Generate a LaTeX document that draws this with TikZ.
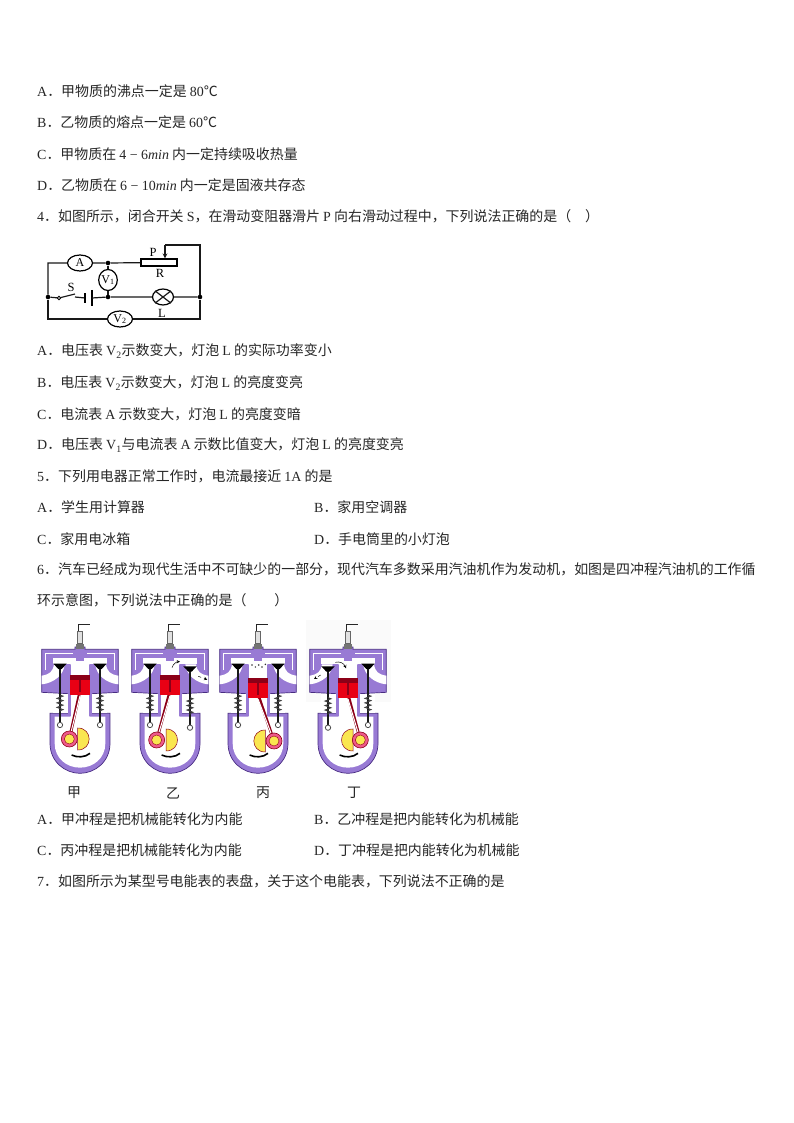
\documentclass[tikz,border=0pt]{standalone}
\usepackage{fontspec}
\setmainfont{Liberation Serif}
\newfontfamily\cjk{Noto Sans CJK SC}
\usetikzlibrary{decorations.pathmorphing,shapes.geometric}
\newcommand{\tn}[1]{{\rmfamily #1}}
\definecolor{enginepurple}{RGB}{152,122,212}
\definecolor{enginedark}{RGB}{72,44,130}
\definecolor{pistonred}{RGB}{232,0,20}
\definecolor{pistondark}{RGB}{140,0,24}
\definecolor{crankyellow}{RGB}{250,230,80}
\definecolor{crankpink}{RGB}{238,90,140}
\tikzset{
  qline/.style={anchor=west,inner sep=0pt,font=\cjk\fontsize{13.95}{16}\selectfont,text=black!85},
  wire/.style={draw=black!90,line width=1.2pt},
  meter/.style={draw=black,line width=1.2pt,fill=white,ellipse,minimum width=25pt,minimum height=16pt,inner sep=0pt,font=\rmfamily\fontsize{12}{13}\selectfont},
  joint/.style={circle,fill=black,inner sep=0pt,minimum size=4.6pt},
  clabel/.style={inner sep=0pt,font=\rmfamily\fontsize{12.5}{13}\selectfont},
  localunits/.style={x=0.3333pt,y=-0.3333pt},
}
% one engine, drawn in units of 1/3 pt round its axis
% #1 axis x, #2 piston top, #3 crank x, #4 crank y, #5 weight flat x, #6 weight side, #7 left valve drop, #8 right valve drop
\newcommand{\engine}[8]{%
  \begin{scope}[shift={(#1,615)},localunits]
    % body
    \draw[enginedark,line width=0.7pt,fill=enginepurple] (-115,103) -- (-15,103) -- (-15,96) -- (15,96) -- (15,103) -- (115,103) -- (115,232) -- (35,236) -- (35,295) -- (90,295) -- (90,385) .. controls (90,440) and (45,475) .. (0,475) .. controls (-45,475) and (-90,440) .. (-90,385) -- (-90,295) -- (-35,295) -- (-35,236) -- (-115,232) -- cycle;
    % crankcase and cylinder
    \fill[white] (-76,305) -- (-28,305) -- (-28,146) -- (28,146) -- (28,305) -- (76,305) -- (76,385) .. controls (76,430) and (40,458) .. (0,458) .. controls (-40,458) and (-76,430) .. (-76,385) -- cycle;
    \fill[white] (-82,128) rectangle (82,148);
    \fill[enginepurple] (-12,128) rectangle (12,138);
    % ports and head passages
    \foreach \s in {-1,1} {
      \fill[white] (\s*115,182) .. controls (\s*90,178) and (\s*82,170) .. (\s*78,148) -- (\s*46,148) .. controls (\s*48,180) and (\s*80,205) .. (\s*115,208) -- cycle;
      \draw[white,line width=1pt] (\s*103,165) -- (\s*103,115) -- (\s*22,115);
      \fill[white] (\s*28,236) rectangle (\s*82,294);
      \fill[enginepurple] (\s*28,150) rectangle (\s*36,304);
    }
    % valves with springs
    \foreach \s/\d in {-1/#7,1/#8} {
      \draw[black!90,line width=1.6pt] (\s*60,150+\d) -- (\s*60,328+\d);
      \fill[black] (\s*40,146+\d) -- (\s*80,146+\d) -- (\s*65,162+\d) -- (\s*55,162+\d) -- cycle;
      \draw[black!75,line width=0.9pt,decorate,decoration={zigzag,segment length=4.5pt,amplitude=3pt}] (\s*60,240+\d) -- (\s*60,292+\d);
      \draw[black!70,fill=white,line width=0.8pt] (\s*60,330+\d) circle[radius=8];
    }
    % piston and connecting rod
    \draw[pistondark,line width=2.8pt] (0,#2+48) -- (#3,#4);
    \draw[white,line width=1pt] (0,#2+62) -- (#3,#4);
    \fill[pistonred] (-29,#2) rectangle (29,#2+60);
    \fill[pistondark] (-29,#2) rectangle (29,#2+15);
    \fill[pistondark] (-2,#2+15) rectangle (2,#2+50);
    % crank
    \draw[pistondark,line width=0.5pt,fill=crankyellow] (#5,#4-33) .. controls (#5+#6*46,#4-33) and (#5+#6*46,#4+33) .. (#5,#4+33) -- cycle;
    \draw[pistondark,line width=0.6pt,fill=crankpink] (#3,#4) circle[radius=24];
    \draw[pistondark,line width=0.4pt,fill=crankyellow] (#3,#4) circle[radius=15];
    \draw[black,line width=1.6pt] (-25,420) .. controls (-10,428) and (15,428) .. (30,415);
    % spark plug
    \draw[black!85,line width=1.1pt] (-5,48) -- (-5,29) -- (30,29);
    \draw[black!60,line width=0.4pt,fill=black!12] (-8,48) rectangle (8,86);
    \fill[black!55] (-11,86) rectangle (11,102);
  \end{scope}%
}
\begin{document}
\begin{tikzpicture}[x=1pt,y=-1pt,>=stealth]
  \useasboundingbox[fill=white] (0,0) rectangle (794,1123);

  % Question text
  \node[qline] (optAa) at (37,91) {\tn{A}．甲物质的沸点一定是 \tn{80}℃};
  \node[qline] (optAb) at (37,122) {\tn{B}．乙物质的熔点一定是 \tn{60}℃};
  \node[qline] (optAc) at (37,154) {\tn{C}．甲物质在 \tn{4 − 6\textit{min}} 内一定持续吸收热量};
  \node[qline] (optAd) at (37,185) {\tn{D}．乙物质在 \tn{6 − 10\textit{min}} 内一定是固液共存态};
  \node[qline] (qfour) at (37,216) {\tn{4}．如图所示，闭合开关 \tn{S}，在滑动变阻器滑片 \tn{P} 向右滑动过程中，下列说法正确的是（\quad ）};
  \node[qline] (optBa) at (37,351) {\tn{A}．电压表 \tn{V\textsubscript{2}}示数变大，灯泡 \tn{L} 的实际功率变小};
  \node[qline] (optBb) at (37,383) {\tn{B}．电压表 \tn{V\textsubscript{2}}示数变大，灯泡 \tn{L} 的亮度变亮};
  \node[qline] (optBc) at (37,414) {\tn{C}．电流表 \tn{A} 示数变大，灯泡 \tn{L} 的亮度变暗};
  \node[qline] (optBd) at (37,445) {\tn{D}．电压表 \tn{V\textsubscript{1}}与电流表 \tn{A} 示数比值变大，灯泡 \tn{L} 的亮度变亮};
  \node[qline] (qfive) at (37,476) {\tn{5}．下列用电器正常工作时，电流最接近 \tn{1A} 的是};
  \node[qline] (optCa) at (37,507) {\tn{A}．学生用计算器};
  \node[qline] (optCb) at (314,507) {\tn{B}．家用空调器};
  \node[qline] (optCc) at (37,539) {\tn{C}．家用电冰箱};
  \node[qline] (optCd) at (314,539) {\tn{D}．手电筒里的小灯泡};
  \node[qline] (qsix) at (37,569) {\tn{6}．汽车已经成为现代生活中不可缺少的一部分，现代汽车多数采用汽油机作为发动机，如图是四冲程汽油机的工作循};
  \node[qline] (qsixb) at (37,600) {环示意图，下列说法中正确的是（\qquad ）};
  \node[qline] (optDa) at (37,819) {\tn{A}．甲冲程是把机械能转化为内能};
  \node[qline] (optDb) at (314,819) {\tn{B}．乙冲程是把内能转化为机械能};
  \node[qline] (optDc) at (37,850) {\tn{C}．丙冲程是把机械能转化为内能};
  \node[qline] (optDd) at (314,850) {\tn{D}．丁冲程是把内能转化为机械能};
  \node[qline] (qseven) at (37,881) {\tn{7}．如图所示为某型号电能表的表盘，关于这个电能表，下列说法不正确的是};

  % Circuit corners
  \coordinate (tl) at (48,263);
  \coordinate (bl) at (48,319);
  \coordinate (br) at (200,319);
  \coordinate (tr) at (200,245);
  \coordinate (ptop) at (165,245);
  \coordinate (swend) at (75,297);
  \coordinate (swtip) at (75,294);

  % Circuit parts
  \node[meter] (ammeter) at (80,263) {A};
  \node[meter,minimum width=18pt,minimum height=21pt] (vone) at (108,280) {V\textsubscript{1}};
  \node[meter] (vtwo) at (120,319) {V\textsubscript{2}};
  \node[joint] (jtop) at (108,263) {};
  \node[joint] (jmid) at (108,297) {};
  \node[joint] (jleft) at (48,297) {};
  \node[joint] (jright) at (200,297) {};
  \node[draw=black,line width=1.2pt,fill=white,minimum width=36pt,minimum height=7pt,inner sep=0pt] (rheo) at (159,262.5) {};
  \node[draw=black,line width=0.9pt,fill=white,circle,minimum size=3.5pt,inner sep=0pt] (swpin) at (59,298) {};
  \node[inner sep=0pt,minimum width=0pt,minimum height=9pt] (batshort) at (85,298) {};
  \node[inner sep=0pt,minimum width=0pt,minimum height=16pt] (batlong) at (92,298) {};
  \node[draw=black,line width=1.2pt,fill=white,ellipse,minimum width=21pt,minimum height=16pt,inner sep=0pt] (lamp) at (163,297) {};
  \node[clabel] (labS) at (71,287) {S};
  \node[clabel] (labP) at (153,252) {P};
  \node[clabel] (labR) at (160,273) {R};
  \node[clabel] (labL) at (162,313) {L};

  % Circuit wires
  \draw[wire] (ammeter) -- (tl) -- (jleft) -- (swpin);
  \draw[wire] (ammeter) -- (jtop) -- (rheo);
  \draw[wire] (jtop) -- (vone) -- (jmid);
  \draw[wire] (swpin) -- (swtip);
  \draw[wire] (swend) -- (batshort.center);
  \draw[line width=2.4pt] (batshort.north) -- (batshort.south);
  \draw[line width=1.2pt] (batlong.north) -- (batlong.south);
  \draw[wire] (batlong.center) -- (jmid) -- (lamp) -- (jright);
  \draw[wire] (lamp.north west) -- (lamp.south east);
  \draw[wire] (lamp.north east) -- (lamp.south west);
  \draw[wire] (jleft) -- (bl) -- (vtwo) -- (br) -- (jright) -- (tr) -- (ptop);
  \draw[wire,->] (ptop) -- (rheo.north -| ptop);

  % Engines
  \fill[black!2] (306,620) rectangle (391,702);
  \engine{80}{180}{-32}{372}{-7}{1}{0}{0}
  \engine{170}{180}{-40}{375}{-12}{1}{0}{8}
  \engine{258}{190}{48}{378}{22}{-1}{0}{0}
  \engine{348}{190}{37}{375}{15}{-1}{8}{0}

  % Gas arrows
  \begin{scope}[shift={(170,615)},localunits]
    \draw[->,line width=0.5pt] (6,158) .. controls (10,146) and (20,140) .. (30,140);
    \draw[->,dashed,line width=0.5pt] (85,184) -- (112,194);
  \end{scope}
  \begin{scope}[shift={(258,615)},localunits]
    \foreach \px/\py in {-18/150,-8/156,2/150,12/156,22/148} {
      \fill[black!80] (\px,\py) circle[radius=2.5];
    }
  \end{scope}
  \begin{scope}[shift={(348,615)},localunits]
    \draw[->,line width=0.5pt] (-38,142) .. controls (-25,138) and (-12,145) .. (-6,160);
    \draw[->,dashed,line width=0.5pt] (-82,180) -- (-102,192);
  \end{scope}

  % Engine names
  \node[qline,anchor=center] (nameA) at (74,793) {甲};
  \node[qline,anchor=center] (nameB) at (173,793) {乙};
  \node[qline,anchor=center] (nameC) at (263,793) {丙};
  \node[qline,anchor=center] (nameD) at (354,793) {丁};
\end{tikzpicture}
\end{document}
